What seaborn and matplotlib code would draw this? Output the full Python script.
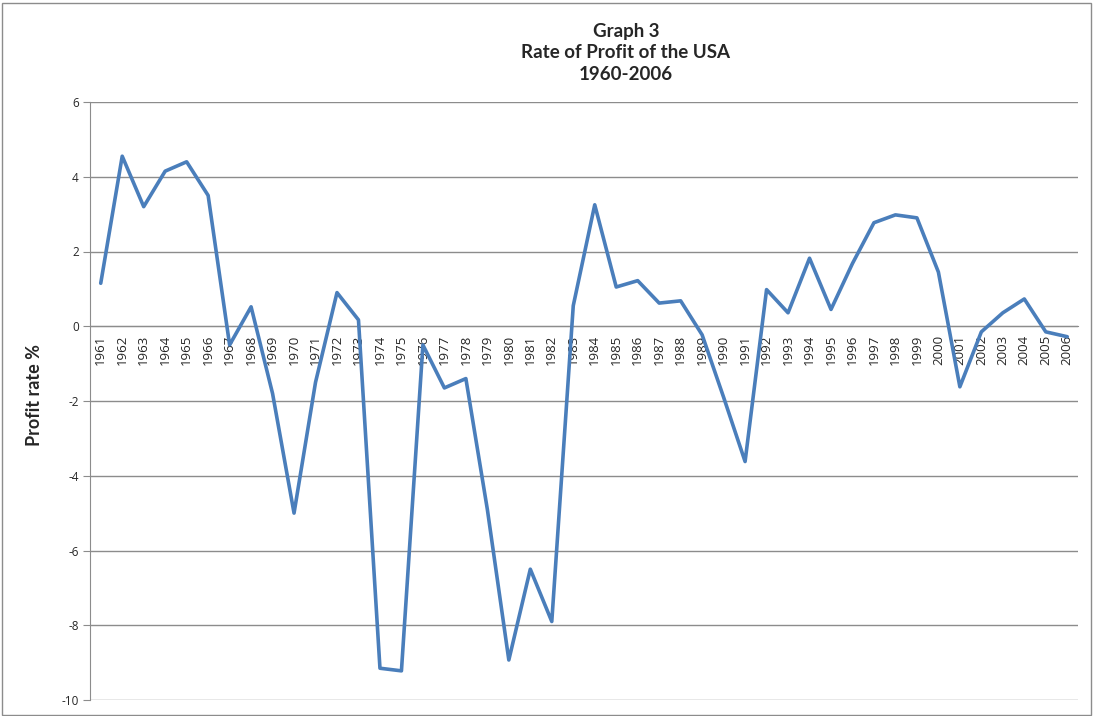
import pandas as pd
import matplotlib.pyplot as plt
import seaborn as sns
from matplotlib.patches import Rectangle

# =========================
# Data
# =========================
years = [str(y) for y in range(1961, 2007)]
profit_rate = [
    1.15, 4.55, 3.2, 4.15, 4.4, 3.5, -0.5, 0.52, -1.8, -5.0,
    -1.5, 0.9, 0.17, -9.15, -9.22, -0.5, -1.65, -1.4, -4.9, -8.93,
    -6.5, -7.9, 0.55, 3.25, 1.05, 1.22, 0.62, 0.68, -0.23, -1.9,
    -3.62, 0.98, 0.36, 1.82, 0.45, 1.68, 2.77, 2.98, 2.9, 1.45,
    -1.62, -0.15, 0.36, 0.73, -0.15, -0.28,
]
yticks = [-10, -8, -6, -4, -2, 0, 2, 4, 6]

df = pd.DataFrame({"year": years, "rate": profit_rate})

# =========================
# Plot
# =========================
sns.set_style("white")
plt.rcParams["font.family"] = ["Lato", "DejaVu Sans"]

fig = plt.figure(figsize=(10.95, 7.16), dpi=100)
ax = fig.add_axes([90 / 1095, 1 - 700 / 716, 988 / 1095, 598 / 716])

for y in yticks:
    ax.axhline(y, color="#8c8c8c", lw=1, zorder=1)

sns.lineplot(data=df, x="year", y="rate", ax=ax, color="#4a7ebb", lw=2.6, zorder=3)

# x axis crosses at zero (do this before styling ticks, it resets them)
ax.spines["bottom"].set_position(("data", 0))
ax.spines["bottom"].set_color("#8c8c8c")
for s in ["top", "right"]:
    ax.spines[s].set_visible(False)
ax.spines["left"].set_color("#8c8c8c")

ax.set_xlim(-0.5, len(years) - 0.5)
ax.set_ylim(-10, 6)
ax.set_yticks(yticks)
ax.set_yticklabels([str(v) for v in yticks], fontsize=8.5, family="Open Sans")
ax.tick_params(axis="y", length=5, color="#8c8c8c", pad=3, left=True)

ax.set_xticks(range(len(years)))
ax.set_xticklabels(years, rotation=90, fontsize=9.5, family="Open Sans")
ax.tick_params(axis="x", length=0, pad=6)
ax.set_xlabel("")
ax.set_ylabel("")

fig.text(35 / 1095, 1 - 395 / 716, "Profit rate %", rotation=90, ha="center",
         va="center", fontsize=13, fontweight="bold")
fig.text(626 / 1095, 1 - 53 / 716, "Graph 3\nRate of Profit of the USA\n1960-2006",
         ha="center", va="center", fontsize=13.5, fontweight="bold", linespacing=1.3)

# chart border
fig.patches.append(Rectangle((0.002, 0.002), 0.994, 0.994, transform=fig.transFigure,
                             fill=False, edgecolor="#8c8c8c", lw=1))

plt.savefig("out.png", dpi=100)
plt.close()
